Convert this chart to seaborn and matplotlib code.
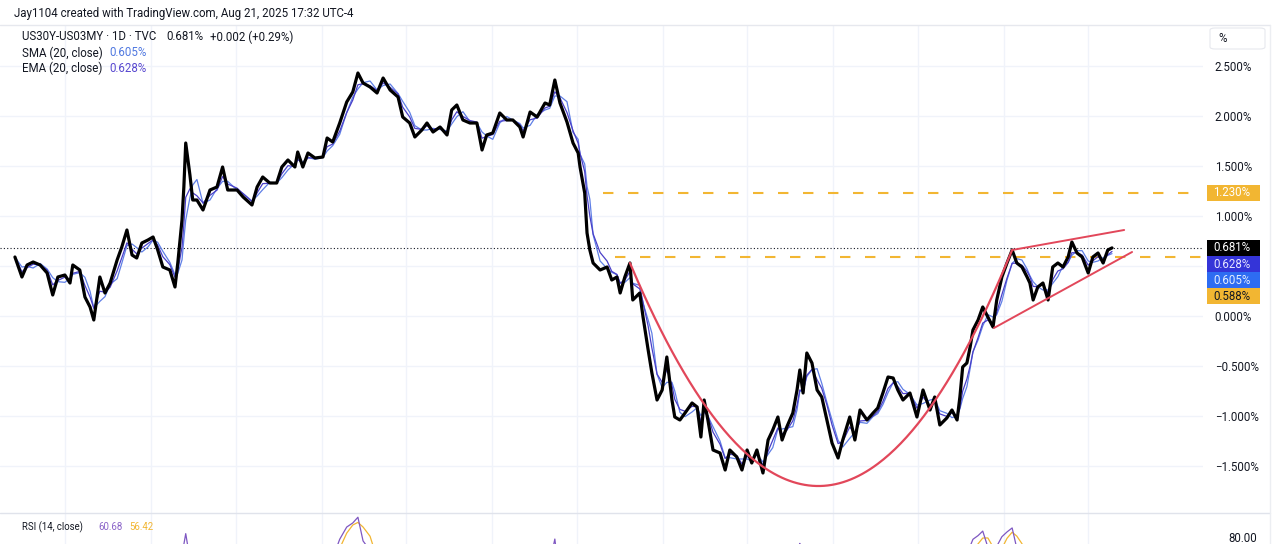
import numpy as np
import pandas as pd
import matplotlib
matplotlib.use("Agg")
import matplotlib.pyplot as plt
import seaborn as sns
from matplotlib.patches import Rectangle, FancyBboxPatch
from matplotlib.lines import Line2D

sns.set_theme(style="white")
plt.rcParams['font.family'] = ['Roboto', 'DejaVu Sans']

# ---------------- data ----------------
START = "2019-03-15"
# calendar days since START
days = [0, 15, 26, 39, 54, 69, 81, 92, 107, 118, 124, 139, 150, 161, 169, 182, 193, 204,
        219, 229, 240, 251, 261, 272, 285, 296, 306, 317, 332, 343, 349, 358, 362, 366,
        375, 381, 390, 403, 418, 433, 445, 456, 476, 489, 508, 519, 531, 546, 561, 572,
        585, 600, 606, 617, 628, 643, 660, 669, 681, 696, 711, 724, 735, 746, 761, 776,
        789, 804, 821, 831, 846, 857, 872, 883, 896, 911, 926, 936, 947, 960, 975, 990,
        1001, 1011, 1024, 1039, 1054, 1067, 1082, 1089, 1104, 1119, 1136, 1146, 1157, 1168,
        1183, 1196, 1207, 1211, 1221, 1226, 1232, 1239, 1254, 1269, 1279, 1290, 1297, 1307,
        1318, 1324, 1339, 1346, 1357, 1365, 1376, 1387, 1397, 1408, 1414, 1425, 1436, 1451,
        1462, 1470, 1477, 1485, 1496, 1511, 1522, 1532, 1547, 1558, 1569, 1579, 1590, 1603,
        1614, 1624, 1635, 1644, 1654, 1667, 1676, 1682, 1689, 1697, 1708, 1719, 1729, 1740,
        1751, 1764, 1774, 1789, 1800, 1811, 1826, 1839, 1849, 1860, 1871, 1882, 1892, 1903,
        1918, 1933, 1946, 1961, 1971, 1982, 1997, 2008, 2019, 2025, 2031, 2040, 2047, 2053,
        2064, 2074, 2085, 2096, 2104, 2115, 2126, 2137, 2147, 2158, 2169, 2175, 2182, 2192,
        2203, 2214, 2224, 2235, 2246, 2257, 2265, 2276, 2287, 2300, 2310, 2321, 2332, 2342,
        2351]
# US30Y-US03MY spread, %
spread = [0.59, 0.39, 0.51, 0.54, 0.51, 0.43, 0.21, 0.39, 0.41, 0.33, 0.51, 0.46, 0.19, 0.09,
          -0.04, 0.39, 0.23, 0.33, 0.56, 0.69, 0.86, 0.61, 0.58, 0.73, 0.76, 0.79, 0.66, 0.49,
          0.46, 0.29, 0.53, 0.96, 1.29, 1.73, 1.41, 1.16, 1.16, 1.06, 1.26, 1.29, 1.49, 1.26,
          1.26, 1.19, 1.11, 1.29, 1.39, 1.33, 1.33, 1.49, 1.56, 1.49, 1.64, 1.49, 1.63, 1.58,
          1.59, 1.78, 1.74, 1.93, 2.14, 2.24, 2.43, 2.33, 2.29, 2.23, 2.38, 2.26, 2.19, 1.99,
          1.93, 1.79, 1.86, 1.93, 1.84, 1.89, 1.81, 2.06, 2.11, 1.96, 1.93, 1.93, 1.66, 1.81,
          1.83, 2.03, 1.96, 1.96, 1.89, 1.79, 2.04, 1.99, 2.13, 2.11, 2.36, 2.13, 1.94, 1.73,
          1.63, 1.49, 1.23, 0.83, 0.66, 0.53, 0.46, 0.49, 0.36, 0.39, 0.23, 0.39, 0.53, 0.16,
          0.23, -0.01, -0.34, -0.57, -0.84, -0.74, -0.41, -0.84, -1.01, -1.04, -0.97, -0.87,
          -0.91, -1.21, -0.84, -1.04, -1.34, -1.37, -1.54, -1.34, -1.41, -1.54, -1.34, -1.47,
          -1.34, -1.57, -1.24, -1.14, -1.01, -1.24, -1.11, -0.97, -0.74, -0.54, -0.77, -0.37,
          -0.47, -0.74, -0.81, -1.04, -1.27, -1.42, -1.24, -1.01, -1.24, -0.94, -1.04, -0.97,
          -0.92, -0.77, -0.61, -0.62, -0.74, -0.84, -0.77, -1.01, -0.74, -0.94, -0.81, -1.09,
          -1.02, -0.94, -1.04, -0.81, -0.51, -0.47, -0.31, -0.14, -0.04, 0.09, -0.01, -0.11,
          0.16, 0.39, 0.53, 0.66, 0.53, 0.49, 0.39, 0.33, 0.16, 0.29, 0.33, 0.16, 0.49, 0.53,
          0.49, 0.59, 0.74, 0.63, 0.59, 0.43, 0.59, 0.63, 0.53, 0.66, 0.681]

# levels / drawings (day offset, value)
level_high = 1.230
level_low = 0.588
level_high_from = 1260
level_low_from = 1286
last_close = 0.681
cup_days = [1318, 1725, 2137]
cup_vals = [0.53, -1.70, 0.66]
wedge_upper_days = [2137, 2377]
wedge_upper_vals = [0.66, 0.86]
wedge_lower_days = [2098, 2394]
wedge_lower_vals = [-0.12, 0.64]

yticks = [-1.5, -1.0, -0.5, 0.0, 0.5, 1.0, 1.5, 2.0, 2.5]

# ---------------- derived series ----------------
t0 = pd.Timestamp(START)
dates = t0 + pd.to_timedelta(days, unit="D")
s = pd.Series(spread, index=dates)
sma = s.rolling("28D").mean()
ema = s.ewm(halflife=pd.Timedelta("10D"), times=dates).mean()
delta = s.diff().fillna(0)
gain = delta.clip(lower=0)
loss = (-delta).clip(lower=0)
ag = gain.ewm(halflife=pd.Timedelta("40D"), times=dates).mean()
al = loss.ewm(halflife=pd.Timedelta("40D"), times=dates).mean()
rsi = 100 - 100 / (1 + ag / al.replace(0, np.nan))
rsi = rsi.fillna(50)
rsi_ma = rsi.rolling("28D").mean()

df = pd.DataFrame({"date": dates, "close": spread, "sma": sma.values,
                   "ema": ema.values, "rsi": rsi.values, "rsi_ma": rsi_ma.values})

# ---------------- figure ----------------
W, H = 1280, 544
fig = plt.figure(figsize=(W / 100, H / 100), dpi=100)
fig.patch.set_facecolor("white")

def fx(x):
    return x / W

def fy(y):
    return 1 - y / H

PANE_R = 1203
ax = fig.add_axes([0, fy(513), fx(PANE_R), (513 - 25) / H])
axr = fig.add_axes([0, 0, fx(PANE_R), (544 - 513) / H])

def xd(d):
    return t0 + pd.Timedelta(days=d)

xlim = (xd(-32), xd(2546))
for a in (ax, axr):
    a.set_facecolor("white")
    for sp in a.spines.values():
        sp.set_visible(False)
    a.set_xlim(*xlim)
    a.tick_params(axis="x", bottom=False, labelbottom=False)

ax.set_ylim(-1.97, 2.91)
axr.set_ylim(76, 93.7)

grid_c = "#f0f3fa"
# vertical grid (Jan / Jul)
for yr in range(2019, 2026):
    for m in (1, 7):
        d = pd.Timestamp(year=yr, month=m, day=1)
        if xlim[0] < d < xlim[1]:
            ax.axvline(d, color=grid_c, lw=1, zorder=0)
            axr.axvline(d, color=grid_c, lw=1, zorder=0)
for v in yticks:
    ax.axhline(v, color=grid_c, lw=1, zorder=0)

# price ticks on the right
ax.yaxis.tick_right()
ax.set_yticks(yticks)
ax.set_yticklabels(["" if abs(v - 0.5) < 1e-9 else
                    (f"{v:.3f}%" if v >= 0 else "\u2212" + f"{-v:.3f}%") for v in yticks])
ax.tick_params(axis="y", length=0, pad=8.5, labelsize=8.3, labelcolor="#131722")
axr.yaxis.tick_right()
axr.set_yticks([80])
axr.set_yticklabels(["80.00"])
axr.tick_params(axis="y", length=0, pad=18, labelsize=8.3, labelcolor="#131722")

# last price dotted line
ax.axhline(last_close, color="#131722", lw=0.8, ls=(0, (1, 2)), zorder=2)

# yellow dashed levels
yel = "#f2b632"
ax.plot([xd(level_high_from), xlim[1]], [level_high, level_high], color=yel, lw=1.5,
        ls=(0, (5, 7)), zorder=2)
ax.plot([xd(level_low_from), xlim[1]], [level_low, level_low], color=yel, lw=1.5,
        ls=(0, (5, 7)), zorder=2)

# moving averages and close
sns.lineplot(data=df, x="date", y="sma", ax=ax, color="#5f7fe6", lw=0.9, zorder=3,
             estimator=None, sort=False)
sns.lineplot(data=df, x="date", y="ema", ax=ax, color="#4a3fc8", lw=0.9, zorder=3,
             estimator=None, sort=False)
sns.lineplot(data=df, x="date", y="close", ax=ax, color="black", lw=2.3, zorder=4,
             estimator=None, sort=False)

# red drawings
red = "#e2475a"
coef = np.polyfit(cup_days, cup_vals, 2)
cd = np.linspace(cup_days[0], cup_days[-1], 200)
ax.plot([xd(d) for d in cd], np.polyval(coef, cd), color=red, lw=1.6, zorder=5)
ax.plot([xd(d) for d in wedge_upper_days], wedge_upper_vals, color=red, lw=1.4, zorder=5)
ax.plot([xd(d) for d in wedge_lower_days], wedge_lower_vals, color=red, lw=1.4, zorder=5)

# RSI pane
sns.lineplot(data=df, x="date", y="rsi_ma", ax=axr, color="#f2b632", lw=0.9,
             estimator=None, sort=False)
sns.lineplot(data=df, x="date", y="rsi", ax=axr, color="#7e57c2", lw=0.9,
             estimator=None, sort=False)
for a in (ax, axr):
    a.set_xlabel("")
    a.set_ylabel("")

# separators / frame
fig.add_artist(Line2D([0, fx(1270)], [fy(25), fy(25)], color="#e6e8ee", lw=1))
fig.add_artist(Line2D([0, fx(1270)], [fy(513), fy(513)], color="#e0e3eb", lw=1))
fig.add_artist(Line2D([fx(1270), fx(1270)], [0, fy(25)], color="#eceef2", lw=1))

# header texts
def ftext(x, y, s, color="#131722", size=8.3, **kw):
    fig.text(fx(x), fy(y), s, color=color, fontsize=size, va="center", ha="left", **kw)

ftext(14, 13, "Jay1104 created with TradingView.com, Aug 21, 2025 17:32 UTC-4", size=8.3)
ftext(22, 37, "US30Y-US03MY \u00b7 1D \u00b7 TVC")
ftext(166, 37, "0.681%")
ftext(210, 37, "+0.002 (+0.29%)")
ftext(22, 53, "SMA (20, close)")
ftext(109, 53, "0.605%", color="#4f78e0")
ftext(22, 68, "EMA (20, close)")
ftext(109, 68, "0.628%", color="#5848d0")
ftext(22, 527, "RSI (14, close)", size=6.9)
ftext(98, 527, "60.68", color="#8a63c8", size=6.9)
ftext(129, 527, "56.42", color="#f2b632", size=6.9)

# % box
fig.patches.append(FancyBboxPatch((fx(1210), fy(49)), fx(55), 21 / H,
                                  boxstyle="round,pad=0,rounding_size=0.004",
                                  transform=fig.transFigure, facecolor="white",
                                  edgecolor="#e6e8ee", lw=0.8))
ftext(1218, 38, "%", size=8.3)

# price label boxes
def price_box(yc, label, fc, tc):
    fig.patches.append(Rectangle((fx(1207), fy(yc + 8)), fx(53), 16 / H,
                                 transform=fig.transFigure, facecolor=fc,
                                 edgecolor="none", zorder=5))
    fig.text(fx(1213), fy(yc), label, color=tc, fontsize=8.3, va="center",
             ha="left", zorder=6)

price_box(193, "1.230%", "#f2b632", "white")
price_box(248, "0.681%", "#000000", "white")
price_box(264, "0.628%", "#3434d8", "#e6e6ff")
price_box(280, "0.605%", "#2e6cf2", "#e6eeff")
price_box(296, "0.588%", "#f2b632", "#131722")

fig.savefig("out.png", dpi=100, facecolor="white")
